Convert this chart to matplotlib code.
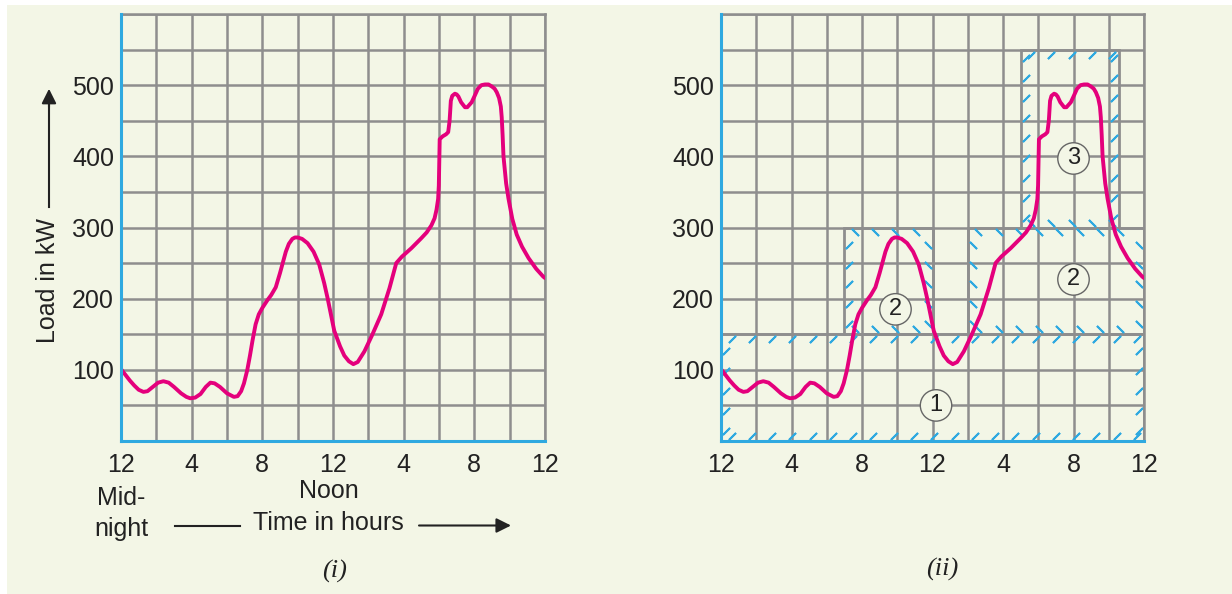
import numpy as np
import matplotlib
matplotlib.use("Agg")
import matplotlib.pyplot as plt
from matplotlib.patches import Rectangle

# ---------------- data ----------------
hours = [0, 0.25, 0.5, 0.75, 1.0, 1.27, 1.5, 1.8, 2.1, 2.4, 2.7, 3.0, 3.4, 3.7, 3.92,
         4.2, 4.5, 4.8, 5.06, 5.3, 5.6, 6.0, 6.39, 6.6, 6.8, 6.96, 7.15, 7.3, 7.45, 7.62,
         7.8, 8.0, 8.29, 8.5, 8.76, 9.0, 9.33, 9.5, 9.7, 9.85, 10.0, 10.25, 10.56, 10.9,
         11.22, 11.5, 11.7, 12.07, 12.4, 12.64, 12.9, 13.15, 13.4, 13.78, 14.2, 14.73,
         15.2, 15.58, 15.9, 16.44, 17.0, 17.3, 17.57, 17.75, 17.86, 17.95, 17.99, 18.04,
         18.2, 18.4, 18.52, 18.6, 18.67, 18.75, 18.9, 19.0, 19.1, 19.25, 19.47, 19.6,
         19.85, 20.0, 20.2, 20.4, 20.6, 20.8, 21.0, 21.15, 21.27, 21.4, 21.5, 21.55,
         21.6, 21.65, 21.8, 21.93, 22.15, 22.4, 22.7, 23.07, 23.5, 23.9, 24.0]
load_kw = [101, 93, 85, 78, 72, 69, 70, 76, 82, 84, 82, 76, 67, 62, 60,
           61, 66, 76, 82, 81, 76, 67, 62, 63, 70, 81, 100, 120, 142, 164,
           178, 187, 198, 205, 216, 236, 266, 277, 284, 286, 286, 284, 278, 266,
           248, 222, 200, 155, 133, 120, 112, 108, 111, 126, 148, 178,
           215, 250, 259, 271, 285, 293, 303, 313, 325, 340, 359, 424,
           428, 431, 434, 450, 478, 485, 488, 487, 484, 476, 469, 469,
           476, 484, 495, 500, 501, 501, 498, 495, 490, 482, 470, 455,
           430, 400, 362, 341, 312, 290, 273, 257, 242, 231, 229]

x_tick_pos = [0, 4, 8, 12, 16, 20, 24]
x_tick_labels = ["12", "4", "8", "12", "4", "8", "12"]
y_tick_pos = [100, 200, 300, 400, 500]

# blocks of panel (ii)
block_x0 = [0, 7, 14, 17]
block_x1 = [24, 12, 24, 22.6]
block_y0 = [0, 150, 150, 300]
block_y1 = [150, 300, 300, 550]
block_labels = ["1", "2", "2", "3"]
label_x = [12.2, 9.9, 20.0, 20.0]
label_y = [50, 185, 227, 397]

# ---------------- style ----------------
W, H = 1232, 594
BG = "#f3f6e6"
GRID = "#8e8e8e"
BLUE = "#2fa9e0"
MAG = "#e4007c"
TXT = "#222222"
plt.rcParams["font.family"] = ["Liberation Sans", "DejaVu Sans"]

fig = plt.figure(figsize=(W / 100, H / 100), dpi=100, facecolor="white")
fig.patches.append(Rectangle((7 / W, 0), 1 - 7 / W, 1 - 5 / H, transform=fig.transFigure,
                             facecolor=BG, edgecolor="none", zorder=-10))


def px(x, y):
    return x / W, 1 - y / H


def setup(ax):
    ax.set_facecolor(BG)
    ax.set_xlim(0, 24)
    ax.set_ylim(0, 600)
    ax.set_xticks(x_tick_pos)
    ax.set_xticklabels(x_tick_labels)
    ax.set_yticks(y_tick_pos)
    ax.set_xticks(np.arange(0, 25, 2), minor=True)
    ax.set_yticks(np.arange(0, 601, 50), minor=True)
    ax.tick_params(which="both", length=0)
    ax.tick_params(axis="x", pad=9, labelsize=18, colors=TXT)
    ax.tick_params(axis="y", pad=5, labelsize=18, colors=TXT)
    ax.grid(which="both", color=GRID, lw=1.8, zorder=0)
    ax.set_axisbelow(True)
    for s in ["top", "right"]:
        ax.spines[s].set_color(GRID)
        ax.spines[s].set_linewidth(1.8)
    for s in ["left", "bottom"]:
        ax.spines[s].set_color(BLUE)
        ax.spines[s].set_linewidth(2.2)
        ax.spines[s].set_zorder(5)
    ax.plot(hours, load_kw, color=MAG, lw=2.8, solid_joinstyle="round",
            solid_capstyle="round", zorder=4)


ax1 = fig.add_axes([121 / W, 1 - 441 / H, 424 / W, 427 / H])
ax2 = fig.add_axes([721 / W, 1 - 441 / H, 423 / W, 427 / H])
setup(ax1)
setup(ax2)

# hatched blocks in panel (ii)
dx, dy = 0.28, 7
sx, sy = 1.15, 28
edge_angles = [(-45, -45, -45, -45), (-45, 45, 45, 45), (45, 45, 45, 45), (-45, -45, -45, 45)]
for i in range(len(block_x0)):
    x0, x1, y0, y1 = block_x0[i], block_x1[i], block_y0[i], block_y1[i]
    ax2.add_patch(Rectangle((x0, y0), x1 - x0, y1 - y0, fill=False, edgecolor=GRID,
                            lw=2.0, zorder=1))
    aL, aT, aR, aB = edge_angles[i]
    xs = np.arange(x0 + 0.6, x1 - 0.3, sx)
    ys = np.arange(y0 + 14, y1 - 6, sy)
    kw = dict(ls="none", color=BLUE, ms=7, mew=1.4, zorder=2)
    ax2.plot(xs, np.full_like(xs, y1 - dy), marker=(2, 2, aT), **kw)
    ax2.plot(xs, np.full_like(xs, y0 + dy), marker=(2, 2, aB), **kw)
    ax2.plot(np.full_like(ys, x0 + dx, dtype=float), ys, marker=(2, 2, aL), **kw)
    ax2.plot(np.full_like(ys, x1 - dx, dtype=float), ys, marker=(2, 2, aR), **kw)

for t, x, y in zip(block_labels, label_x, label_y):
    ax2.text(x, y, t, ha="center", va="center", fontsize=17, color=TXT, zorder=6,
             bbox=dict(boxstyle="circle,pad=0.2", fc=BG, ec="#666666", lw=1.0))

# axis texts panel (i)
fig.text(*px(48, 280), "Load in kW", rotation=90, ha="center", va="center",
         fontsize=18, color=TXT)
fig.add_artist(plt.Line2D([49 / W, 49 / W], [1 - 207 / H, 1 - 105 / H], color=TXT,
                          lw=1.5, transform=fig.transFigure))
ax1.annotate("", xy=px(49, 86), xytext=px(49, 110), xycoords="figure fraction",
             textcoords="figure fraction",
             arrowprops=dict(arrowstyle="-|>", color=TXT, lw=1.5, mutation_scale=22))
fig.text(*px(121, 498), "Mid-", ha="center", va="center", fontsize=18, color=TXT)
fig.text(*px(121, 529), "night", ha="center", va="center", fontsize=18, color=TXT)
fig.text(*px(329, 491), "Noon", ha="center", va="center", fontsize=18, color=TXT)
fig.text(*px(328, 523), "Time in hours", ha="center", va="center", fontsize=18, color=TXT)
fig.add_artist(plt.Line2D([175 / W, 240 / W], [1 - 525.5 / H] * 2, color=TXT, lw=1.5,
                          transform=fig.transFigure))
ax1.annotate("", xy=px(511, 525.5), xytext=px(419, 525.5), xycoords="figure fraction",
             textcoords="figure fraction",
             arrowprops=dict(arrowstyle="-|>", color=TXT, lw=1.5, mutation_scale=22,
                             shrinkA=0, shrinkB=0))
fig.text(*px(335, 571), "(i)", ha="center", va="center", fontsize=19, color=TXT,
         family="Liberation Serif", style="italic")
fig.text(*px(942, 569), "(ii)", ha="center", va="center", fontsize=19, color=TXT,
         family="Liberation Serif", style="italic")

fig.savefig("out.png", dpi=100, facecolor=fig.get_facecolor())
